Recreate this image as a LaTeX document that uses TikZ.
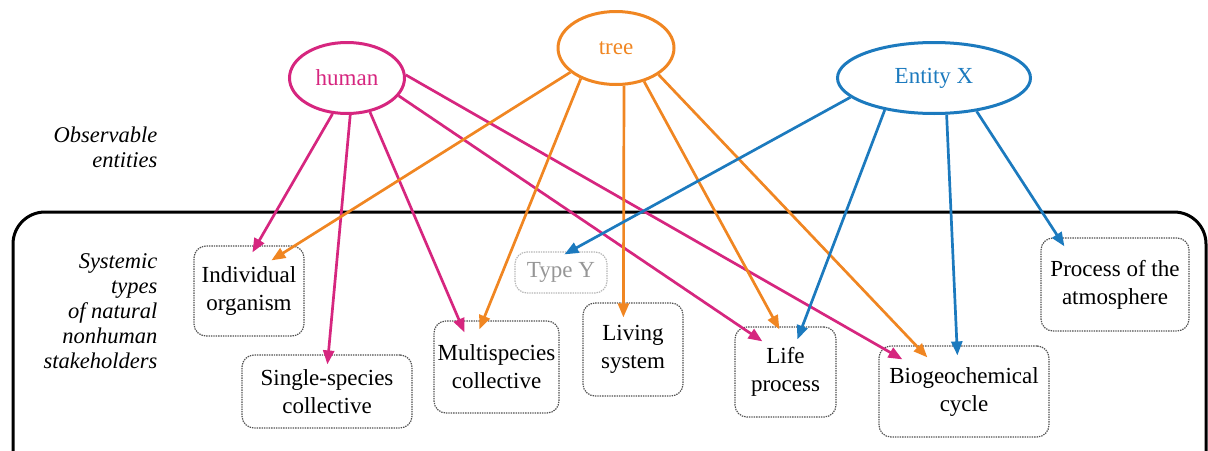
\documentclass[tikz,border=0pt]{standalone}
\usepackage{fontspec}
\setmainfont{Liberation Serif}
\usetikzlibrary{arrows.meta,calc,shapes.geometric}
\definecolor{hmag}{RGB}{214,38,127}
\definecolor{torange}{RGB}{240,134,34}
\definecolor{xblue}{RGB}{28,122,190}
\definecolor{boxline}{RGB}{80,80,80}
\definecolor{greyt}{RGB}{150,150,150}
\begin{document}
\begin{tikzpicture}[x=1pt,y=-1pt,
  ent/.style={ellipse, line width=3pt, inner sep=0pt, font=\fontsize{23}{28}\selectfont},
  typebox/.style={draw=boxline, line width=1.2pt, dash pattern=on 1.4pt off 1pt, rounded corners=12pt,
     align=center, inner sep=0pt, font=\fontsize{23}{28}\selectfont, text=black},
  lbl/.style={align=right, anchor=east, font=\fontsize{22.5}{25}\selectfont\itshape, text=black},
  arr/.style={line width=2.7pt, -{Triangle[length=14pt,width=11pt]}}
]
\useasboundingbox (0,0) rectangle (1208,450);
\draw[line width=3pt, rounded corners=32pt] (13,212) rectangle (1206,490);

% labels
\node[lbl] (lobs) at (161,147) {Observable\\entities};
\node[lbl] (lsys) at (161,311) {Systemic\\types\\of natural\\nonhuman\\stakeholders};

% entities
\node[ent, draw=hmag, text=hmag, minimum width=115pt, minimum height=71pt] (human) at (347,78) {human};
\node[ent, draw=torange, text=torange, minimum width=116pt, minimum height=73pt] (tree) at (616,48) {tree};
\node[ent, draw=xblue, text=xblue, minimum width=193pt, minimum height=71pt] (ex) at (934,78) {Entity X};

% types
\node[typebox, minimum width=110pt, minimum height=90pt] (io) at (249,291) {Individual\\organism};
\node[typebox, minimum width=170pt, minimum height=73pt] (ss) at (327,391.5) {Single-species\\collective};
\node[typebox, minimum width=125pt, minimum height=92pt] (ms) at (496.5,367) {Multispecies\\collective};
\node[typebox, minimum width=100pt, minimum height=93pt] (ls) at (633,349.5) {Living\\system};
\node[typebox, draw=greyt!70, text=greyt, minimum width=92pt, minimum height=41pt] (ty) at (561,272.5) {Type Y};
\node[typebox, minimum width=101pt, minimum height=90pt] (lp) at (785.5,372) {Life\\process};
\node[typebox, minimum width=170pt, minimum height=91pt] (bc) at (964,391.5) {Biogeochemical\\cycle};
\node[typebox, minimum width=148pt, minimum height=93pt] (pa) at (1115,284.5) {Process of the\\atmosphere};

% human arrows
\draw[arr, hmag] (human.-112) -- ($(io.north west)+(59,7)$);
\draw[arr, hmag] (human.-85) -- ($(ss.north west)+(86,10)$);
\draw[arr, hmag] (human.-56) -- ($(ms.north west)+(31,12)$);
\draw[arr, hmag] (human.-19) -- ($(lp.north west)+(28,15)$);
\draw[arr, hmag] (human.3) -- ($(bc.north west)+(24,14)$);

% tree arrows
\draw[arr, torange] (tree.-152) -- ($(io.north west)+(78,15)$);
\draw[arr, torange] (tree.-139) -- ($(ms.north west)+(46,9)$);
\draw[arr, torange] (tree.-78) -- ($(ls.north west)+(41,15)$);
\draw[arr, torange] (tree.-50) -- ($(lp.north west)+(45,3)$);
\draw[arr, torange] (tree.-32) -- ($(bc.north west)+(49,12)$);

% entity X arrows
\draw[arr, xblue] (ex.-167) -- ($(ty.north west)+(50,3)$);
\draw[arr, xblue] (ex.-147) -- ($(lp.north west)+(63,13)$);
\draw[arr, xblue] (ex.-71) -- ($(bc.north west)+(79,10)$);
\draw[arr, xblue] (ex.-38) -- ($(pa.north west)+(24,9)$);
\end{tikzpicture}
\end{document}
